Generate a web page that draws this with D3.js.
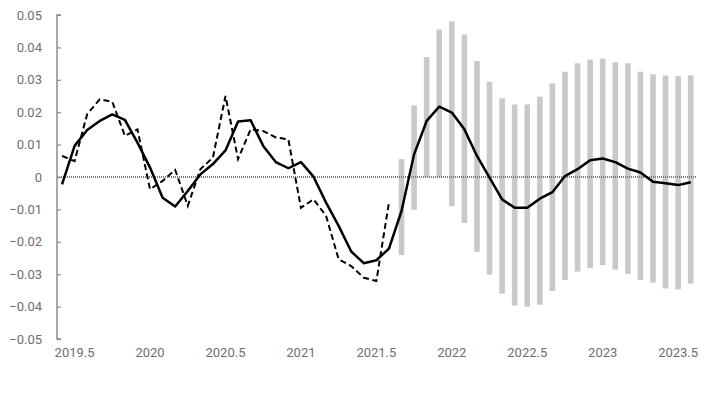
<!DOCTYPE html>
<html>
<head>
<meta charset="utf-8">
<script src="https://cdn.jsdelivr.net/npm/d3@7"></script>
<style>
  html, body { margin: 0; padding: 0; background: #fff; }
  svg { display: block; }
  text { font-family: Roboto, "Noto Sans", sans-serif; }
</style>
</head>
<body>
<svg id="chart" width="726" height="402"></svg>
<script>
// Monthly periods, June 2019 .. August 2023 (index 0 .. 50)
const startYear = 2019, startMonth = 5; // 0-based month (June)
const nMonths = 51;
const months = d3.range(nMonths).map(i => startYear + (startMonth + i) / 12);

// Solid line (full series)
const solidValues = [
  -0.0023, 0.0096, 0.0145, 0.0173, 0.0193, 0.0176, 0.0106, 0.0029, -0.0064, -0.0091,
  -0.0043, 0.0008, 0.0040, 0.0082, 0.0171, 0.0175, 0.0096, 0.0046, 0.0027, 0.0046,
  0.0001, -0.0079, -0.0151, -0.0230, -0.0266, -0.0257, -0.0221, -0.0105, 0.0070, 0.0173,
  0.0217, 0.0199, 0.0147, 0.0065, -0.0002, -0.0069, -0.0095, -0.0095, -0.0067, -0.0047,
  0.0003, 0.0024, 0.0052, 0.0057, 0.0046, 0.0026, 0.0014, -0.0015, -0.0019, -0.0025,
  -0.0016
];

// Dashed line (history only, indices 0..26)
const dashedValues = [
  0.0065, 0.0049, 0.0194, 0.0240, 0.0232, 0.0127, 0.0147, -0.0038, -0.0012, 0.0022,
  -0.0089, 0.0024, 0.0060, 0.0250, 0.0055, 0.0147, 0.0142, 0.0122, 0.0116, -0.0095,
  -0.0069, -0.0120, -0.0254, -0.0275, -0.0311, -0.0321, -0.0079
];

// Range bars (indices 27..50)
const barStart = 27;
const barHigh = [
  0.0055, 0.0221, 0.0370, 0.0455, 0.0480, 0.0440, 0.0358, 0.0294, 0.0243, 0.0224,
  0.0224, 0.0248, 0.0289, 0.0325, 0.0351, 0.0362, 0.0365, 0.0354, 0.0351, 0.0325,
  0.0317, 0.0313, 0.0311, 0.0314
];
const barLow = [
  -0.0241, -0.0101, 0.0000, 0.0000, -0.0090, -0.0142, -0.0231, -0.0301, -0.0360, -0.0397,
  -0.0400, -0.0394, -0.0352, -0.0318, -0.0292, -0.0281, -0.0272, -0.0286, -0.0299, -0.0318,
  -0.0326, -0.0344, -0.0347, -0.0329
];

const xTickValues = [2019.5, 2020, 2020.5, 2021, 2021.5, 2022, 2022.5, 2023, 2023.5];
const xTickLabels = ["2019.5", "2020", "2020.5", "2021", "2021.5", "2022", "2022.5", "2023", "2023.5"];
const yTickValues = [0.05, 0.04, 0.03, 0.02, 0.01, 0, -0.01, -0.02, -0.03, -0.04, -0.05];
const yTickLabels = ["0.05", "0.04", "0.03", "0.02", "0.01", "0", "\u22120.01", "\u22120.02", "\u22120.03", "\u22120.04", "\u22120.05"];

const svg = d3.select("#chart");
const mLeft = 57, mRight = 697, mTop = 15, mBottom = 339;

const x = d3.scaleLinear()
  .domain([months[0] - 0.4 / 12, months[nMonths - 1] + 0.5 / 12])
  .range([mLeft, mRight]);
const y = d3.scaleLinear().domain([-0.05, 0.05]).range([mBottom, mTop]);

// Bars
const bars = barHigh.map((h, k) => ({ t: months[barStart + k], hi: h, lo: barLow[k] }));
const barW = 5.6;
svg.append("g").selectAll("rect").data(bars).join("rect")
  .attr("x", d => x(d.t) - barW / 2)
  .attr("width", barW)
  .attr("y", d => y(d.hi))
  .attr("height", d => Math.max(0.5, y(d.lo) - y(d.hi)))
  .attr("fill", "#c9c9c9");

// Zero line
svg.append("line")
  .attr("x1", mLeft).attr("x2", mRight)
  .attr("y1", y(0)).attr("y2", y(0))
  .attr("stroke", "#7a7a7a").attr("stroke-width", 2)
  .attr("stroke-dasharray", "1,1");

// Y axis
const yAxis = d3.axisRight(y).tickValues(yTickValues).tickSize(4).tickFormat("");
const gy = svg.append("g").attr("transform", `translate(${mLeft},0)`).call(yAxis);
gy.select(".domain").attr("stroke", "#8c8c8c").attr("stroke-width", 1.5)
  .attr("d", `M4,${y(0.05)}H0V${y(-0.05)}H4`);
gy.selectAll(".tick line").attr("stroke", "#8c8c8c").attr("stroke-width", 1.2);

svg.append("g").selectAll("text").data(yTickValues).join("text")
  .attr("x", 42).attr("y", d => y(d))
  .attr("dy", "0.35em")
  .attr("text-anchor", "end")
  .attr("font-size", 13)
  .attr("fill", "#6e6e6e")
  .text((d, i) => yTickLabels[i]);

// X labels
svg.append("g").selectAll("text").data(xTickValues).join("text")
  .attr("x", d => x(d)).attr("y", 357)
  .attr("text-anchor", "middle")
  .attr("font-size", 13)
  .attr("fill", "#6e6e6e")
  .text((d, i) => xTickLabels[i]);

// Lines
const line = d3.line().x(d => x(d.t)).y(d => y(d.v));
const dashedData = dashedValues.map((v, i) => ({ t: months[i], v }));
const solidData = solidValues.map((v, i) => ({ t: months[i], v }));

svg.append("path").datum(dashedData)
  .attr("d", line).attr("fill", "none")
  .attr("stroke", "#000").attr("stroke-width", 2)
  .attr("stroke-dasharray", "6,3.5");

svg.append("path").datum(solidData)
  .attr("d", line).attr("fill", "none")
  .attr("stroke", "#000").attr("stroke-width", 2.5)
  .attr("stroke-linejoin", "round");
</script>
</body>
</html>
